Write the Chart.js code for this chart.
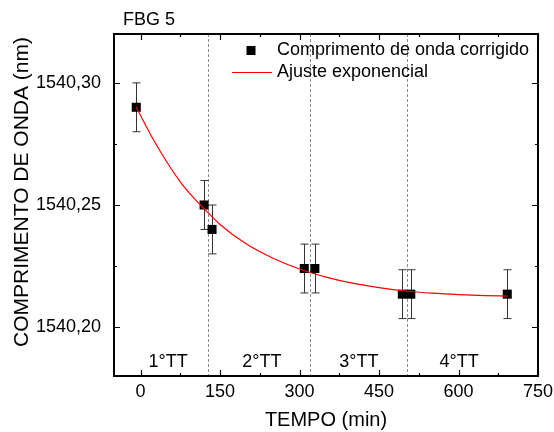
<!DOCTYPE html>
<html>
<head>
<meta charset="utf-8">
<script src="https://cdn.jsdelivr.net/npm/chart.js@4.4.0/dist/chart.umd.min.js"></script>
<style>
  html, body { margin: 0; padding: 0; background: #fff; }
</style>
</head>
<body>
<canvas id="myChart" width="554" height="432"></canvas>
<script>
const timeMin = [-8, 120, 135, 309, 329, 494, 510, 692]
const wavelength = [1540.290, 1540.250, 1540.240, 1540.224, 1540.224, 1540.2135, 1540.2135, 1540.2135]
const wavelengthErr = [0.01, 0.01, 0.01, 0.01, 0.01, 0.01, 0.01, 0.01]

// exponential fit, values
const fitTime = [-8, 25, 50, 75, 100, 120, 150, 200, 250, 300, 350, 400, 450, 500, 550, 600, 650, 692]
const fitWavelength = [1540.2900, 1540.2765, 1540.2675, 1540.2595, 1540.2530, 1540.2485, 1540.2420, 1540.2340,
    1540.2282, 1540.2238, 1540.2205, 1540.2180, 1540.2162, 1540.2148, 1540.2139, 1540.2133, 1540.2129, 1540.2127]

const xTicks = [0, 150, 300, 450, 600, 750]
const yTicks = [1540.20, 1540.25, 1540.30]

// heat treatment stages
const stageEnds = [128, 320, 502]
const stageNames = ['1°TT', '2°TT', '3°TT', '4°TT']
const stageCenters = [52, 229, 412, 601]

const FONT = '"Liberation Sans", Arial, sans-serif'

function midpoints(arr){
    /**minor ticks sit halfway between the major ones */
    let out = []
    for (let i = 0; i < arr.length - 1; i++) out.push((arr[i] + arr[i + 1]) / 2)
    return out
}

const decorations = {
    id: 'decorations',
    beforeDatasetsDraw(chart){
        const {ctx, chartArea: ca, scales: {x, y}} = chart
        ctx.save()
        // dashed stage boundaries
        ctx.strokeStyle = '#8c8c8c'
        ctx.lineWidth = 1
        ctx.setLineDash([3, 2])
        stageEnds.forEach(t => {
            let px = Math.round(x.getPixelForValue(t)) + 0.5
            ctx.beginPath()
            ctx.moveTo(px, ca.top)
            ctx.lineTo(px, ca.bottom)
            ctx.stroke()
        })
        ctx.setLineDash([])
        // error bars
        ctx.strokeStyle = '#333'
        ctx.lineWidth = 1
        timeMin.forEach((t, i) => {
            let px = Math.round(x.getPixelForValue(t)) + 0.5
            let top = y.getPixelForValue(wavelength[i] + wavelengthErr[i])
            let bot = y.getPixelForValue(wavelength[i] - wavelengthErr[i])
            ctx.beginPath()
            ctx.moveTo(px, top); ctx.lineTo(px, bot)
            ctx.moveTo(px - 4, top); ctx.lineTo(px + 4, top)
            ctx.moveTo(px - 4, bot); ctx.lineTo(px + 4, bot)
            ctx.stroke()
        })
        // stage names
        ctx.fillStyle = '#000'
        ctx.font = '18px ' + FONT
        ctx.textAlign = 'center'
        ctx.textBaseline = 'middle'
        stageNames.forEach((s, i) => {
            ctx.fillText(s, x.getPixelForValue(stageCenters[i]), ca.bottom - 14)
        })
        ctx.restore()
    },
    afterDraw(chart){
        const {ctx, chartArea: ca, scales: {x, y}} = chart
        ctx.save()
        // frame
        ctx.strokeStyle = '#000'
        ctx.lineWidth = 2
        ctx.strokeRect(ca.left, ca.top, ca.right - ca.left, ca.bottom - ca.top)
        // inward ticks on all four sides
        ctx.lineWidth = 1.2
        ctx.beginPath()
        const xTick = (v, len) => {
            if (v < x.min || v > x.max) return
            let px = Math.round(x.getPixelForValue(v)) + 0.5
            ctx.moveTo(px, ca.bottom); ctx.lineTo(px, ca.bottom - len)
            ctx.moveTo(px, ca.top); ctx.lineTo(px, ca.top + len)
        }
        const yTick = (v, len) => {
            if (v < y.min || v > y.max) return
            let py = Math.round(y.getPixelForValue(v)) + 0.5
            ctx.moveTo(ca.left, py); ctx.lineTo(ca.left + len, py)
            ctx.moveTo(ca.right, py); ctx.lineTo(ca.right - len, py)
        }
        xTicks.forEach(v => xTick(v, 6))
        midpoints(xTicks).forEach(v => xTick(v, 3))
        yTicks.forEach(v => yTick(v, 6))
        midpoints(yTicks).forEach(v => yTick(v, 3))
        ctx.stroke()

        // legend
        ctx.font = '18px ' + FONT
        ctx.fillStyle = '#000'
        ctx.textAlign = 'left'
        ctx.textBaseline = 'middle'
        ctx.fillRect(ca.left + 132.5, ca.top + 12, 9, 9)
        ctx.fillText(chart.data.datasets[0].label, ca.left + 163, ca.top + 16.5)
        ctx.strokeStyle = '#ff0000'
        ctx.lineWidth = 1.2
        ctx.beginPath()
        ctx.moveTo(ca.left + 118, ca.top + 38.5)
        ctx.lineTo(ca.left + 158, ca.top + 38.5)
        ctx.stroke()
        ctx.fillText(chart.data.datasets[1].label, ca.left + 163, ca.top + 38.5)

        // panel title
        ctx.textBaseline = 'alphabetic'
        ctx.fillText('FBG 5', ca.left + 9, 25)

        // y axis title, sits a bit above the plot centre like in the original
        ctx.translate(22, 192)
        ctx.rotate(-Math.PI / 2)
        ctx.font = '21px ' + FONT
        ctx.textAlign = 'center'
        ctx.textBaseline = 'middle'
        ctx.fillText('COMPRIMENTO DE ONDA (nm)', 0, 0)
        ctx.restore()
    }
}

const ctx = document.getElementById('myChart')
let myChart = new Chart(ctx, {
    type: 'scatter',
    data: {
        datasets: [{
            label: 'Comprimento de onda corrigido',
            data: timeMin.map((t, i) => ({x: t, y: wavelength[i]})),
            pointStyle: 'rect',
            pointRadius: 6.4,
            backgroundColor: '#000',
            borderWidth: 0,
            order: 1
        }, {
            type: 'line',
            label: 'Ajuste exponencial',
            data: fitTime.map((t, i) => ({x: t, y: fitWavelength[i]})),
            borderColor: '#ff0000',
            borderWidth: 1.2,
            pointRadius: 0,
            cubicInterpolationMode: 'monotone',
            fill: false,
            order: 0
        }]
    },
    options: {
        responsive: false,
        animation: false,
        layout: {padding: {top: 34, right: 16, left: 0, bottom: 0}},
        plugins: {
            legend: {display: false},
            tooltip: {enabled: false}
        },
        scales: {
            x: {
                type: 'linear',
                min: -50,
                max: 750,
                grid: {display: false, drawTicks: false},
                border: {display: false},
                afterBuildTicks: (scale) => { scale.ticks = xTicks.map(v => ({value: v})) },
                afterFit: (scale) => {
                    scale.height = 56
                    scale.paddingLeft = 0
                    scale.paddingRight = 0
                },
                ticks: {
                    padding: 5,
                    color: '#000',
                    font: {family: FONT, size: 18},
                    maxRotation: 0,
                    callback: (v) => String(v)
                },
                title: {
                    display: true,
                    text: 'TEMPO (min)',
                    color: '#000',
                    font: {family: FONT, size: 20},
                    padding: {top: 0, bottom: 0}
                }
            },
            y: {
                type: 'linear',
                min: 1540.18,
                max: 1540.32,
                grid: {display: false, drawTicks: false},
                border: {display: false},
                afterBuildTicks: (scale) => { scale.ticks = yTicks.map(v => ({value: v})) },
                afterFit: (scale) => {
                    scale.width = 114
                    scale.paddingTop = 0
                    scale.paddingBottom = 0
                },
                ticks: {
                    padding: 13,
                    color: '#000',
                    font: {family: FONT, size: 18},
                    callback: (v) => v.toFixed(2).replace('.', ',')
                }
            }
        }
    },
    plugins: [decorations]
})
</script>
</body>
</html>
